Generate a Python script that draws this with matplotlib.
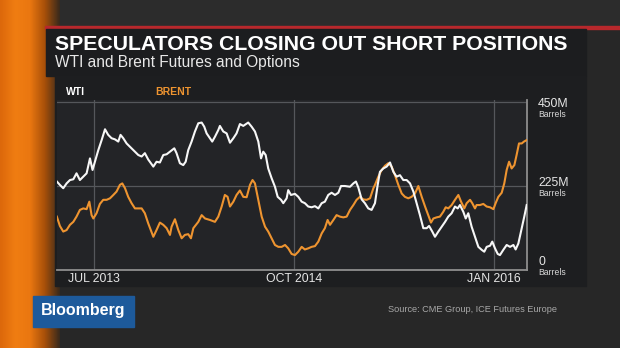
import numpy as np
import matplotlib.pyplot as plt
from matplotlib.patches import Rectangle
from matplotlib.colors import LinearSegmentedColormap

# Данные (десятичный год, млн баррелей)
wti_t = [2013.268, 2013.287, 2013.308, 2013.329, 2013.350, 2013.371, 2013.391, 2013.412, 2013.433, 2013.454,
         2013.475, 2013.491, 2013.506, 2013.527, 2013.548, 2013.569, 2013.589, 2013.610, 2013.631, 2013.652,
         2013.666, 2013.683, 2013.704, 2013.725, 2013.746, 2013.756, 2013.777, 2013.798, 2013.818, 2013.839,
         2013.871, 2013.891, 2013.912, 2013.933, 2013.954, 2013.975, 2014.002, 2014.016, 2014.037, 2014.058,
         2014.073, 2014.089, 2014.110, 2014.131, 2014.152, 2014.173, 2014.189, 2014.204, 2014.225, 2014.239,
         2014.256, 2014.277, 2014.287, 2014.308, 2014.329, 2014.350, 2014.371, 2014.391, 2014.412, 2014.433,
         2014.464, 2014.485, 2014.506, 2014.527, 2014.544, 2014.558, 2014.573, 2014.589, 2014.610, 2014.631,
         2014.648, 2014.669, 2014.683, 2014.704, 2014.714, 2014.731, 2014.756, 2014.777, 2014.798, 2014.818,
         2014.839, 2014.860, 2014.881, 2014.902, 2014.923, 2014.943, 2014.964, 2014.985, 2015.006, 2015.027,
         2015.044, 2015.068, 2015.100, 2015.121, 2015.137, 2015.152, 2015.173, 2015.193, 2015.214, 2015.235,
         2015.256, 2015.273, 2015.287, 2015.308, 2015.329, 2015.350, 2015.371, 2015.391, 2015.412, 2015.433,
         2015.454, 2015.475, 2015.496, 2015.516, 2015.537, 2015.558, 2015.579, 2015.594, 2015.614, 2015.631,
         2015.652, 2015.673, 2015.694, 2015.714, 2015.735, 2015.756, 2015.773, 2015.787, 2015.808, 2015.823,
         2015.839, 2015.860, 2015.881, 2015.902, 2015.923, 2015.939, 2015.954, 2015.975, 2015.989, 2016.006,
         2016.023, 2016.037, 2016.058, 2016.079, 2016.100, 2016.121, 2016.135, 2016.152, 2016.173, 2016.189,
         2016.204]
wti_v = [237, 228, 219, 232, 241, 243, 259, 241, 250, 259,
         299, 268, 290, 321, 348, 377, 362, 353, 350, 344,
         362, 353, 339, 330, 321, 317, 308, 304, 313, 296,
         277, 290, 288, 308, 310, 317, 326, 313, 286, 281,
         290, 321, 344, 371, 393, 395, 384, 366, 353, 344,
         357, 375, 386, 371, 366, 341, 353, 366, 391, 386,
         395, 384, 371, 344, 299, 317, 308, 272, 246, 223,
         196, 188, 179, 192, 214, 201, 204, 196, 183, 179,
         170, 168, 171, 165, 179, 183, 201, 207, 201, 207,
         225, 225, 223, 232, 237, 221, 189, 179, 165, 161,
         179, 228, 263, 272, 277, 288, 263, 250, 254, 241,
         241, 232, 210, 179, 147, 112, 112, 118, 103, 89,
         103, 116, 129, 143, 152, 170, 165, 174, 156, 138,
         152, 116, 89, 62, 54, 49, 62, 65, 76, 58,
         43, 40, 54, 67, 62, 67, 55, 71, 112, 143,
         174]

brent_t = [2013.268, 2013.287, 2013.308, 2013.329, 2013.350, 2013.371, 2013.391, 2013.412, 2013.433, 2013.454,
           2013.471, 2013.485, 2013.496, 2013.516, 2013.537, 2013.558, 2013.579, 2013.600, 2013.621, 2013.641,
           2013.662, 2013.677, 2013.694, 2013.714, 2013.735, 2013.756, 2013.777, 2013.798, 2013.818, 2013.839,
           2013.871, 2013.891, 2013.912, 2013.933, 2013.954, 2013.975, 2013.985, 2014.006, 2014.027, 2014.048,
           2014.068, 2014.089, 2014.106, 2014.121, 2014.152, 2014.173, 2014.194, 2014.225, 2014.256, 2014.277,
           2014.298, 2014.318, 2014.335, 2014.350, 2014.371, 2014.391, 2014.412, 2014.433, 2014.454, 2014.475,
           2014.491, 2014.506, 2014.527, 2014.548, 2014.569, 2014.589, 2014.610, 2014.631, 2014.652, 2014.673,
           2014.694, 2014.714, 2014.735, 2014.756, 2014.777, 2014.798, 2014.818, 2014.839, 2014.860, 2014.881,
           2014.902, 2014.923, 2014.943, 2014.960, 2014.975, 2014.996, 2015.016, 2015.037, 2015.058, 2015.079,
           2015.100, 2015.121, 2015.141, 2015.162, 2015.183, 2015.204, 2015.225, 2015.246, 2015.256, 2015.277,
           2015.298, 2015.318, 2015.339, 2015.360, 2015.381, 2015.402, 2015.423, 2015.443, 2015.464, 2015.485,
           2015.506, 2015.527, 2015.548, 2015.569, 2015.589, 2015.606, 2015.621, 2015.641, 2015.662, 2015.683,
           2015.698, 2015.714, 2015.735, 2015.756, 2015.777, 2015.794, 2015.814, 2015.829, 2015.850, 2015.864,
           2015.881, 2015.891, 2015.912, 2015.933, 2015.954, 2015.975, 2015.996, 2016.010, 2016.027, 2016.048,
           2016.064, 2016.079, 2016.094, 2016.110, 2016.127, 2016.141, 2016.156, 2016.173, 2016.187, 2016.204]
brent_v = [143, 118, 103, 107, 121, 129, 143, 161, 165, 163,
           183, 147, 138, 152, 177, 188, 188, 192, 201, 210,
           228, 232, 219, 196, 179, 165, 165, 165, 152, 125,
           89, 107, 127, 121, 112, 94, 116, 136, 107, 85,
           94, 96, 85, 112, 129, 147, 138, 134, 129, 143,
           170, 201, 196, 170, 183, 201, 213, 196, 195, 228,
           241, 232, 188, 143, 116, 103, 85, 67, 62, 62,
           67, 58, 43, 40, 49, 62, 55, 58, 62, 64,
           76, 98, 112, 134, 121, 134, 147, 143, 141, 143,
           161, 174, 188, 196, 189, 188, 192, 219, 228, 250,
           268, 279, 286, 277, 254, 228, 205, 196, 192, 196,
           205, 225, 196, 170, 147, 127, 138, 141, 143, 156,
           168, 165, 174, 188, 201, 183, 165, 179, 188, 179,
           165, 174, 174, 177, 170, 168, 163, 179, 196, 207,
           232, 268, 290, 272, 281, 308, 339, 339, 344, 348]

x_ticks = [2013.5, 2014.75, 2016.0]
x_labels = ["JUL 2013", "OCT 2014", "JAN 2016"]
y_ticks = [0, 225, 450]
y_labels = ["0", "225M", "450M"]

plt.rcParams['font.family'] = ['Liberation Sans', 'DejaVu Sans']

fig = plt.figure(figsize=(6.2, 3.48), dpi=100)
fig.patch.set_facecolor('#262626')

# Фон в пикселях (0,0 - левый верхний угол)
bg = fig.add_axes([0, 0, 1, 1])
bg.set_xlim(0, 620)
bg.set_ylim(348, 0)
bg.axis('off')
bg.add_patch(Rectangle((0, 0), 620, 348, color='#272727', zorder=0))
bg.add_patch(Rectangle((0, 0), 620, 27, color='#2c2c2c', zorder=1))
grad = np.linspace(0, 1, 60)[None, :]
orange = LinearSegmentedColormap.from_list('o', ['#dc680b', '#f07d12', '#ea7710', '#a85009', '#3a2a1c'])
bg.imshow(grad, extent=[0, 60, 348, 0], aspect='auto', cmap=orange, zorder=2)
bg.add_patch(Rectangle((45, 26), 575, 2.5, color='#b8282c', zorder=3))
bg.add_patch(Rectangle((46, 28.5), 540, 47, color='#1c1d1f', zorder=3))
bg.add_patch(Rectangle((55, 75.5), 531, 210, color='#1d1e20', zorder=3))
bg.add_patch(Rectangle((33, 296), 101, 31, color='#1d5a9b', zorder=4))

bg.text(55, 45, "SPECULATORS CLOSING OUT SHORT POSITIONS", color='white', fontsize=15.3,
        fontweight='bold', va='center', ha='left', zorder=5)
bg.text(55, 62, "WTI and Brent Futures and Options", color='#e8e8e8', fontsize=11.2,
        va='center', ha='left', zorder=5)
bg.text(66, 92, "WTI", color='white', fontsize=7.5, fontweight='bold', va='center', zorder=5)
bg.text(155, 92, "BRENT", color='#ee9430', fontsize=7.5, fontweight='bold', va='center', zorder=5)
bg.text(83.5, 311, "Bloomberg", color='white', fontsize=11.5, fontweight='bold',
        va='center', ha='center', zorder=5)
bg.text(557, 309, "Source: CME Group, ICE Futures Europe", color='#a8a8a8', fontsize=6.6,
        va='center', ha='right', zorder=5)

# График
ax = fig.add_axes([57 / 620, 78 / 348, 470 / 620, 170 / 348])
ax.set_facecolor('#232427')
ax.plot(brent_t, brent_v, color='#ee9430', lw=1.5, zorder=3)
ax.plot(wti_t, wti_v, color='#f7f7f7', lw=1.5, zorder=4)
ax.set_xlim(2013.269, 2016.206)
ax.set_ylim(0, 455.4)
ax.set_xticks(x_ticks)
ax.set_xticklabels(x_labels)
ax.set_yticks(y_ticks)
ax.set_yticklabels([])
ax.tick_params(length=0, colors='#e6e6e6', labelsize=8.8, pad=2)
ax.grid(True, color='#55575b', lw=0.9)
for s in ['top', 'left']:
    ax.spines[s].set_visible(False)
for s in ['bottom', 'right']:
    ax.spines[s].set_color('#8e8e8e')
    ax.spines[s].set_linewidth(1.3)

yax = ax.get_yaxis_transform()
for v, lab in zip(y_ticks, y_labels):
    off = 8 - 10 * v / 450
    ax.annotate(lab, (1.0, v), xycoords=yax, xytext=(8, off * 0.72), textcoords='offset points',
                color='#e6e6e6', fontsize=8.8, va='center', ha='left', annotation_clip=False)
    ax.annotate("Barrels", (1.0, v), xycoords=yax, xytext=(8, (off - 10.5) * 0.72),
                textcoords='offset points', color='#d8d8d8', fontsize=6.2, va='center',
                ha='left', annotation_clip=False)

fig.savefig("out.png", dpi=100, facecolor=fig.get_facecolor())
